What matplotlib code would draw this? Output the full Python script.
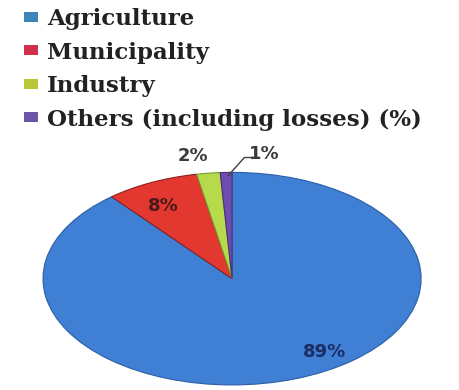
import matplotlib
matplotlib.use("Agg")
import matplotlib.pyplot as plt
from matplotlib.patches import Patch

categories = ["Agriculture", "Municipality", "Industry", "Others (including losses) (%)"]
shares = [89, 8, 2, 1]
pct_labels = ["89%", "8%", "2%", "1%"]

colors = ["#3f7fd4", "#e2382f", "#b6da4c", "#6e4cb0"]
edge_colors = ["#2b5ea8", "#8a2020", "#7a9a30", "#4a2e78"]
legend_colors = ["#3a86b8", "#d0304a", "#b8c83a", "#6a56a8"]
label_colors = ["#1c2d66", "#4a1a1a", "#3a3a3a", "#3a3a3a"]
label_pos = [(0.49, -0.69), (-0.365, 0.68), (-0.206, 1.15), (0.17, 1.17)]

fig = plt.figure(figsize=(4.6, 3.9), dpi=100)
ax = fig.add_axes([0.0935, 0.013, 0.822, 0.545])
wedges, _ = ax.pie(shares, colors=colors, startangle=90, counterclock=False,
                   radius=1.0, wedgeprops=dict(linewidth=0.8))
for w, ec in zip(wedges, edge_colors):
    w.set_edgecolor(ec)
ax.set_aspect("auto")
ax.set_xlim(-1, 1)
ax.set_ylim(-1, 1)
ax.axis("off")

for lab, (x, y), c in zip(pct_labels, label_pos, label_colors):
    ax.text(x, y, lab, ha="center", va="center", fontsize=13, fontweight="bold",
            color=c, family="DejaVu Sans", clip_on=False)

# leader line for the 1% label
ax.plot([-0.02, 0.065, 0.105], [0.97, 1.14, 1.14], color="#404040", lw=1.0, clip_on=False)

handles = [Patch(facecolor=c, edgecolor="none") for c in legend_colors]
fig.legend(handles, categories, loc="upper left", bbox_to_anchor=(0.007, 1.032),
           frameon=False, prop=dict(family="DejaVu Serif", weight="bold", size=16.5),
           handlelength=0.62, handleheight=0.3, handletextpad=0.4, labelspacing=0.5,
           labelcolor="#222222")

fig.savefig("out.png", dpi=100, facecolor="white")
